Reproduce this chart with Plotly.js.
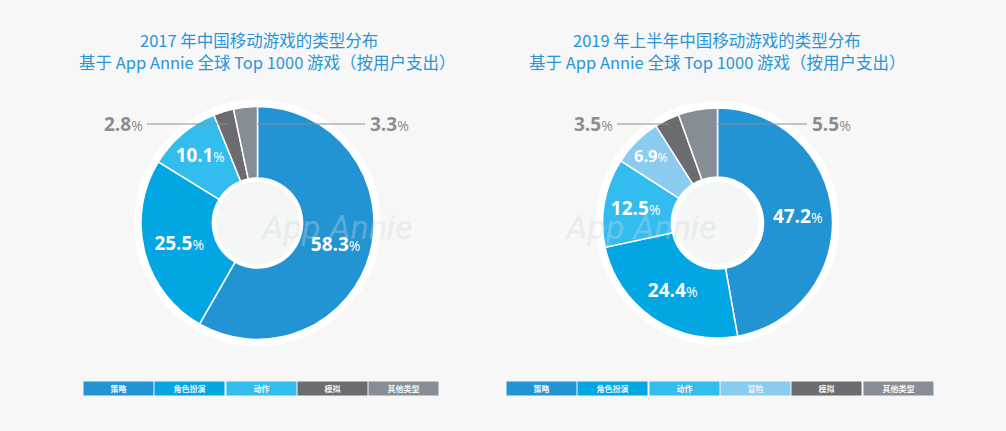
<!DOCTYPE html>
<html><head><meta charset="utf-8">
<script src="https://cdn.plot.ly/plotly-3.0.1.min.js"></script>
<style>html,body{margin:0;padding:0;background:#f7f7f7;}#c{width:1006px;height:431px;}</style>
</head><body><div id="c"></div>
<script>
const cats2017 = ['策略','角色扮演','动作','模拟','其他类型'];
const vals2017 = [58.3,25.5,10.1,2.8,3.3];
const cats2019 = ['策略','角色扮演','动作','冒险','模拟','其他类型'];
const vals2019 = [47.2,24.4,12.5,6.9,3.5,5.5];
const title2017 = ['2017 年中国移动游戏的类型分布','基于 App Annie 全球 Top 1000 游戏（按用户支出）'];
const title2019 = ['2019 年上半年中国移动游戏的类型分布','基于 App Annie 全球 Top 1000 游戏（按用户支出）'];
const colorMap = {'策略':'#2293d3','角色扮演':'#01a6e2','动作':'#33bdef','冒险':'#8ccbf0','模拟':'#6a6c70','其他类型':'#878d94'};
const smallCats = ['模拟','其他类型'];

const W = 1006, H = 431;
const px = p => p / W, py = p => 1 - p / H;
const CJK = '"Noto Sans CJK SC", "Open Sans", sans-serif';
const NUM = '"Open Sans", "Noto Sans CJK SC", sans-serif';

const charts = [
  {cats: cats2017, vals: vals2017, title: title2017, cx: 257.5, cy: 223, r: 116.5, hole: 0.387, centerR: 41.5, ringR: 123.5,
   titleX: [259, 267], labOff: [-134.5, 131.5], legendStart: 84},
  {cats: cats2019, vals: vals2019, title: title2019, cx: 717.5, cy: 223, r: 115, hole: 0.40, centerR: 41, ringR: 122,
   titleX: [717, 717], labOff: [-124.5, 113.5], legendStart: 507}
];

const data = [], shapes = [], annotations = [];
charts.forEach(ch => {
  const small = ch.cats.map(c => smallCats.includes(c));
  data.push({
    type: 'pie', labels: ch.cats, values: ch.vals, sort: false, direction: 'clockwise', rotation: 0,
    hole: ch.hole,
    marker: {colors: ch.cats.map(c => colorMap[c]), line: {color: '#ffffff', width: 1.5}},
    text: ch.vals.map((v, i) => small[i] ? '' : '<b>' + v.toFixed(1) + '</b><span style="font-size:14px">%</span>'),
    textinfo: 'text', textposition: ch.cats.map((c, i) => small[i] ? 'none' : 'inside'),
    insidetextorientation: 'horizontal',
    textfont: {family: NUM, size: 19, color: '#ffffff'},
    hoverinfo: 'none', showlegend: false,
    domain: {x: [px(ch.cx - ch.r), px(ch.cx + ch.r)], y: [py(ch.cy + ch.r), py(ch.cy - ch.r)]}
  });
  shapes.push({type: 'circle', layer: 'below', xref: 'paper', yref: 'paper', xsizemode: 'pixel', ysizemode: 'pixel',
    xanchor: px(ch.cx), yanchor: py(ch.cy), x0: -ch.ringR, x1: ch.ringR, y0: -ch.ringR, y1: ch.ringR,
    fillcolor: '#ffffff', line: {width: 0}});
  shapes.push({type: 'circle', layer: 'above', xref: 'paper', yref: 'paper', xsizemode: 'pixel', ysizemode: 'pixel',
    xanchor: px(ch.cx), yanchor: py(ch.cy), x0: -ch.centerR, x1: ch.centerR, y0: -ch.centerR, y1: ch.centerR,
    fillcolor: '#f5f6f6', line: {width: 0}});
  annotations.push({xref: 'paper', yref: 'paper', x: px(ch.cx), y: py(ch.cy + 4), text: 'App Annie', showarrow: false,
    font: {family: 'Roboto, sans-serif', size: 34, style: 'italic', color: 'rgba(205,215,222,0.35)'}});
  ch.title.forEach((t, k) => annotations.push({xref: 'paper', yref: 'paper', x: px(ch.titleX[k]), y: py(k === 0 ? 40 : 62),
    xanchor: 'center', yanchor: 'middle', text: t, showarrow: false, font: {family: CJK, size: 16.5, color: '#2a94d6'}}));
  const total = ch.vals.reduce((a, b) => a + b, 0);
  let cum = 0;
  const labelY = ch.cy - 99;
  let side = 0;
  ch.vals.forEach((v, i) => {
    const s = cum / total, e = (cum + v) / total; cum += v;
    if (!small[i]) return;
    let theta, lx;
    if (side === 0) { theta = (s + e) / 2 * 2 * Math.PI; lx = ch.cx + ch.labOff[0]; }
    else { theta = e * 2 * Math.PI - 0.001; lx = ch.cx + ch.labOff[1]; }
    const tipX = ch.cx + 99 * Math.tan(theta);
    annotations.push({xref: 'paper', yref: 'paper', x: px(tipX), y: py(labelY), ax: lx - tipX, ay: 0,
      text: '<b>' + v.toFixed(1) + '</b><span style="font-size:14px">%</span>', showarrow: true, arrowhead: 0,
      arrowwidth: 1, arrowcolor: '#8a8d91', standoff: 0, startstandoff: 3,
      font: {family: NUM, size: 19, color: '#8a8d91'}});
    side++;
  });
  ch.cats.forEach((c, i) => {
    annotations.push({xref: 'paper', yref: 'paper', x: px(ch.legendStart + 34.5 + i * 71.3), y: py(388.5),
      xanchor: 'center', yanchor: 'middle', text: '<b>' + c + '</b>', showarrow: false, width: 69, height: 13, borderpad: 0,
      bgcolor: colorMap[c], font: {family: CJK, size: 8, color: '#f4f6f8'}});
  });
});

Plotly.newPlot('c', data, {
  width: W, height: H, margin: {l: 0, r: 0, t: 0, b: 0},
  paper_bgcolor: '#f7f7f7', plot_bgcolor: '#f7f7f7',
  shapes: shapes, annotations: annotations, showlegend: false
}, {displayModeBar: false, staticPlot: true});
</script></body></html>
